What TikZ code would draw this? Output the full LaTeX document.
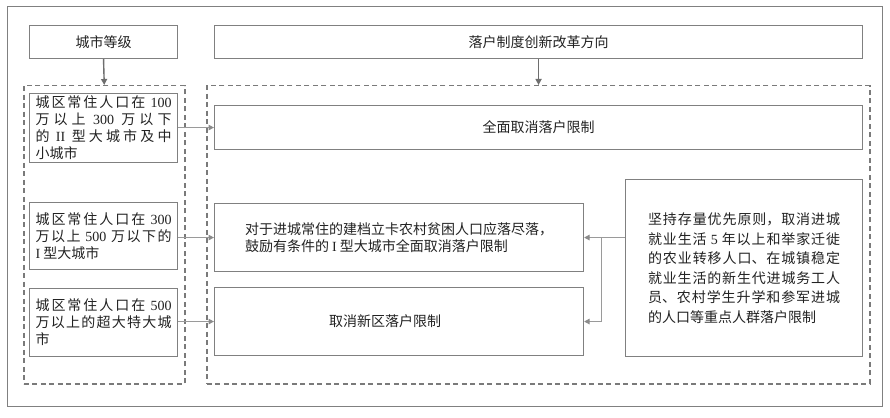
\documentclass[tikz,border=0pt]{standalone}
\usepackage{fontspec}
\setmainfont{Noto Sans CJK SC}
\newfontfamily\latn{Liberation Serif}
\usetikzlibrary{arrows.meta,calc}
\XeTeXlinebreaklocale "zh"
\XeTeXlinebreakskip=0pt plus 1.5pt
\setlength\parindent{0pt}
\tolerance=10000
\hbadness=10000
\definecolor{boxgray}{HTML}{808080}
\definecolor{dashgray}{HTML}{7A7A7A}
\definecolor{textcol}{HTML}{222222}
\definecolor{arrdark}{HTML}{6E6E6E}
\definecolor{arrlight}{HTML}{9A9A9A}
\begin{document}
\begin{tikzpicture}[x=1pt,y=-1pt,
  box/.style={draw=boxgray, line width=1.1pt, inner sep=0pt, anchor=north west,
    font=\fontsize{14}{17}\selectfont, text=textcol},
  cityb/.style={box, minimum width=148pt, text width=136pt, inner xsep=6pt, align=justify},
  dashbox/.style={draw=dashgray, line width=1.5pt, dash pattern=on 5pt off 3.5pt,
    anchor=north west, inner sep=0pt},
  arrD/.style={draw=arrdark, line width=1.4pt, -{Triangle[length=6pt,width=6pt]}},
  arrL/.style={draw=arrlight, line width=1.2pt, -{Triangle[length=5.5pt,width=5.5pt,color=arrdark!80]}}
]
\fill[white] (0,0) rectangle (890,417);
\useasboundingbox (0,0) rectangle (890,417);

\node[draw=boxgray, line width=1pt, minimum width=875pt, minimum height=400pt,
  anchor=north west, inner sep=0pt] (frame) at (7,6) {};

\node[box, minimum width=148pt, minimum height=33pt] (grade) at (29,25) {城市等级};
\node[box, minimum width=648pt, minimum height=33pt] (dir) at (214,25) {落户制度创新改革方向};

\node[dashbox, minimum width=161pt, minimum height=298pt] (ldash) at (23,85) {};
\node[dashbox, minimum width=663pt, minimum height=298pt] (rdash) at (206,85) {};

\node[cityb, minimum height=69pt] (c1) at (29,93)
  {城区常住人口在 {\latn 100}\linebreak 万以上 {\latn 300} 万以下\linebreak 的 {\latn II} 型大城市及中\linebreak 小城市};
\node[cityb, minimum height=67pt] (c2) at (29,202)
  {城区常住人口在 {\latn 300}\linebreak 万以上 {\latn 500} 万以下的\linebreak {\latn I} 型大城市};
\node[cityb, minimum height=68pt] (c3) at (29,288)
  {城区常住人口在 {\latn 500}\linebreak 万以上的超大特大城\linebreak 市};

\node[box, minimum width=648pt, minimum height=44pt] (c4) at (214,105) {全面取消落户限制};
\node[box, minimum width=369pt, minimum height=68pt, align=left] (c5) at (214,203)
  {对于进城常住的建档立卡农村贫困人口应落尽落，\\鼓励有条件的 {\latn I} 型大城市全面取消落户限制};
\node[box, minimum width=369pt, minimum height=68pt] (c6) at (214,287) {取消新区落户限制\hspace*{28pt}};

\node[box, minimum width=237pt, minimum height=177pt, text width=192pt, inner xsep=22.5pt,
  align=justify, font=\fontsize{14}{19.5}\selectfont] (big) at (625,179)
  {坚持存量优先原则，取消进城\linebreak 就业生活 {\latn 5} 年以上和举家迁徙\linebreak 的农业转移人口、在城镇稳定\linebreak 就业生活的新生代进城务工人\linebreak 员、农村学生升学和参军进城\linebreak 的人口等重点人群落户限制};

\draw[arrD] (grade.south) -- (ldash.north);
\draw[arrD] (dir.south) -- (dir.south |- rdash.north);

\draw[arrL] (c4.west -| c1.east) -- (c4.west);
\draw[arrL] (c5.west -| c2.east) -- (c5.west);
\draw[arrL] (c6.west -| c3.east) -- (c6.west);

\coordinate (j) at ($(c5.east)+(17,0)$);
\draw[arrL] (big.west |- c5.east) -- (c5.east);
\draw[arrL] (j) |- (c6.east);
\end{tikzpicture}
\end{document}
